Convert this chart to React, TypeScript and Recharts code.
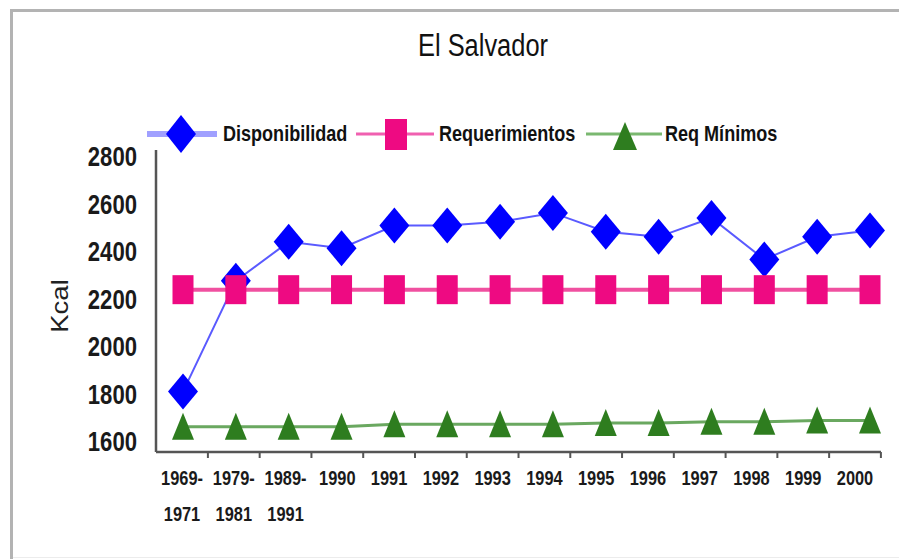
import React from 'react';
import { LineChart, Line, XAxis, YAxis, Legend } from 'recharts';

const periodos = ['1969-1971', '1979-1981', '1989-1991', '1990', '1991', '1992', '1993', '1994', '1995', '1996', '1997', '1998', '1999', '2000'];
const disponibilidad = [1840, 2280, 2435, 2410, 2500, 2500, 2515, 2550, 2475, 2455, 2530, 2365, 2455, 2480];
const requerimientos = [2245, 2245, 2245, 2245, 2245, 2245, 2245, 2245, 2245, 2245, 2245, 2245, 2245, 2245];
const reqMinimos = [1700, 1700, 1700, 1700, 1710, 1710, 1710, 1710, 1715, 1715, 1720, 1720, 1725, 1725];
const yTicks = [1600, 1800, 2000, 2200, 2400, 2600, 2800];

const data = periodos.map((p, i) => ({
  periodo: p,
  disp: disponibilidad[i],
  req: requerimientos[i],
  min: reqMinimos[i],
}));

// no narrow face installed, so Liberation Sans squeezed to ~82% width
const FONT = "'Liberation Sans', Arial, sans-serif";
const NARROW = 0.82;
const AXIS = '#555555';
const BLUE = '#0000ff';
const PINK = '#ee0a82';
const GREEN = '#2e7d1f';

const Diamond = ({ cx, cy }: any) => (
  <polygon points={`${cx},${cy - 18} ${cx + 15},${cy} ${cx},${cy + 18} ${cx - 15},${cy}`} fill={BLUE} />
);
const Square = ({ cx, cy }: any) => <rect x={cx - 10.5} y={cy - 14.5} width={21} height={29} fill={PINK} />;
const Triangle = ({ cx, cy }: any) => (
  <polygon points={`${cx},${cy - 14} ${cx + 11},${cy + 13} ${cx - 11},${cy + 13}`} fill={GREEN} />
);

const NarrowText = ({ x, y, anchor, size, bold, children }: any) => (
  <g transform={`translate(${x} ${y}) scale(${NARROW} 1)`}>
    <text x={0} y={0} textAnchor={anchor} dominantBaseline="central" fontFamily={FONT}
      fontWeight={bold ? 'bold' : 'normal'} fontSize={size} fill="#1a1a1a">
      {children}
    </text>
  </g>
);

// labels sit a little tighter than the gridline spacing in the original
const YTick = ({ x, y, payload }: any) => (
  <NarrowText x={x} y={y + 7 - (y - 150) * 0.056} anchor="end" size={27} bold>
    {payload.value}
  </NarrowText>
);

const XTick = ({ x, y, payload }: any) => {
  const v: string = payload.value;
  const lines = v.includes('-') ? [v.slice(0, 5), v.slice(5)] : [v];
  const bx = x + 25.9;
  return (
    <g>
      <line x1={bx} x2={bx} y1={y} y2={y + 6} stroke={AXIS} strokeWidth={2} />
      {lines.map((t, i) => (
        <NarrowText key={i} x={x} y={y + 26 + i * 36} anchor="middle" size={20} bold>
          {t}
        </NarrowText>
      ))}
    </g>
  );
};

const legendText = (extra: any) => ({
  display: 'inline-block',
  whiteSpace: 'nowrap' as const,
  transform: `scaleX(${NARROW})`,
  transformOrigin: 'left center',
  ...extra,
});

const renderLegend = () => (
  <div style={{ display: 'flex', alignItems: 'center', height: 40, paddingLeft: 147, fontFamily: FONT, fontWeight: 'bold', fontSize: 22, color: '#111' }}>
    <svg width={70} height={40}>
      <line x1={0} x2={70} y1={20} y2={20} stroke="#a0a0ff" strokeWidth={6} />
      <polygon points="34,1 49,20 34,39 19,20" fill={BLUE} />
    </svg>
    <span style={legendText({ marginLeft: 6, width: 133 })}>Disponibilidad</span>
    <svg width={78} height={40}>
      <line x1={0} x2={78} y1={20} y2={20} stroke="#f060b0" strokeWidth={3} />
      <rect x={29} y={5} width={22} height={31} fill={PINK} />
    </svg>
    <span style={legendText({ marginLeft: 5, width: 147 })}>Requerimientos</span>
    <svg width={76} height={40}>
      <line x1={0} x2={76} y1={20} y2={20} stroke="#7ab870" strokeWidth={3} />
      <polygon points="39,8 51,36 27,36" fill={GREEN} />
    </svg>
    <span style={legendText({ marginLeft: 3 })}>Req Mínimos</span>
  </div>
);

const KcalLabel = ({ viewBox }: any) => {
  const cy = viewBox.y + viewBox.height / 2 + 5;
  return (
    <text transform={`translate(60 ${cy}) scale(1 1.2) rotate(-90)`} textAnchor="middle" dominantBaseline="central"
      fontFamily={FONT} fontSize={23} fill="#222">
      Kcal
    </text>
  );
};

export default function App() {
  return (
    <div style={{ position: 'absolute', left: 0, top: 0, width: 899, height: 559, background: '#fff', overflow: 'hidden' }}>
      <div style={{ position: 'absolute', left: 10, top: 9, width: 889, height: 3, background: '#b3b3b3' }} />
      <div style={{ position: 'absolute', left: 10, top: 9, width: 3, height: 550, background: '#b3b3b3' }} />
      <div style={{ position: 'absolute', left: 13, top: 557, width: 886, height: 1, background: '#ececec' }} />
      <div style={{ position: 'absolute', left: 333, top: 28, width: 300, textAlign: 'center', fontFamily: FONT, fontSize: 31, lineHeight: '36px', color: '#111', transform: `scaleX(${NARROW})` }}>
        El Salvador
      </div>
      <LineChart width={899} height={559} data={data} margin={{ top: 150, right: 18, bottom: 0, left: 0 }}>
        <XAxis xAxisId="cat" dataKey="periodo" interval={0} padding={{ left: 26, right: 26 }}
          tickLine={false} tickSize={0} tickMargin={0} height={107}
          axisLine={{ stroke: AXIS, strokeWidth: 2.5 }} tick={<XTick />} />
        <XAxis xAxisId="pts" dataKey="periodo" hide padding={{ left: 27, right: 11 }} />
        <YAxis type="number" domain={[1600, 2800]} ticks={yTicks} interval={0} width={156}
          tickLine={false} tickSize={0} tickMargin={19}
          axisLine={{ stroke: AXIS, strokeWidth: 2.5 }} tick={<YTick />}
          label={{ value: 'Kcal', content: <KcalLabel /> }} />
        <Legend verticalAlign="middle" content={renderLegend} wrapperStyle={{ top: 114, left: 0, width: 899 }} />
        <Line xAxisId="pts" dataKey="disp" name="Disponibilidad" stroke="#5a5aff" strokeWidth={2}
          isAnimationActive={false} dot={(p: any) => <Diamond key={p.index} {...p} />} />
        <Line xAxisId="pts" dataKey="req" name="Requerimientos" stroke="#f050a0" strokeWidth={4}
          isAnimationActive={false} dot={(p: any) => <Square key={p.index} {...p} />} />
        <Line xAxisId="pts" dataKey="min" name="Req Mínimos" stroke="#6aa860" strokeWidth={3}
          isAnimationActive={false} dot={(p: any) => <Triangle key={p.index} {...p} />} />
      </LineChart>
    </div>
  );
}
